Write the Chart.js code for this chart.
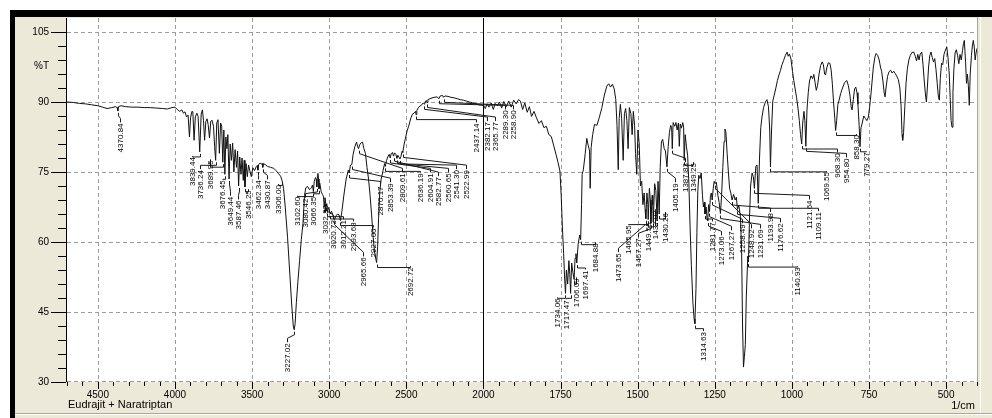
<!DOCTYPE html>
<html>
<head>
<meta charset="utf-8">
<script src="https://cdn.jsdelivr.net/npm/chart.js@4.4.0/dist/chart.umd.min.js"></script>
<style>
html,body{margin:0;padding:0;background:#fff;overflow:hidden}
#wrap{width:992px;height:418px}
</style>
</head>
<body>
<div id="wrap"><canvas id="c" width="992" height="418"></canvas></div>
<script>
// IR spectrum, %T versus wavenumber (1/cm). The axis is compressed 2x above 2000 1/cm.

// 4700 - 2000 1/cm: [wavenumber, %T]
const bandHigh = [
  [4700,90.0],[4660,89.9],[4620,89.7],[4580,89.6],[4540,89.4],[4500,89.2],[4470,88.9],[4440,88.6],
  [4410,88.8],[4385,89.0],[4375,88.8],[4370.84,88.1],[4366,89.0],[4350,89.2],[4320,89.0],[4280,88.9],
  [4240,88.9],[4200,88.8],[4160,88.8],[4120,88.7],[4080,88.6],[4050,88.5],[4020,88.8],[4000,88.9],
  [3985,88.4],[3970,88.0],[3955,88.3],[3945,87.6],[3935,87.9],[3925,86.8],[3915,87.2],[3906,82.5],
  [3899,86.6],[3890,88.0],[3884,87.9],[3876,81.8],[3868,86.8],[3858,87.6],[3850,86.9],[3839.44,79.3],
  [3830,87.4],[3822,88.3],[3815,86.0],[3808,81.8],[3800,85.8],[3792,86.4],[3785,85.2],[3776,82.3],
  [3768,85.8],[3760,86.1],[3750,84.8],[3743,80.5],[3736.24,77.5],[3729,85.5],[3721,86.2],[3712,79.0],
  [3704,85.5],[3697,84.8],[3689.95,77.1],[3683,84.0],[3676.45,74.5],[3670,82.5],[3663,80.0],[3657,83.0],
  [3649.44,73.5],[3642,81.0],[3634,77.5],[3626,81.2],[3618,75.0],[3610,79.8],[3601,76.0],[3594,79.5],
  [3587.46,72.0],[3580,78.2],[3572,74.5],[3565,78.0],[3557,73.2],[3551,77.5],[3546.25,71.8],[3539,76.8],
  [3531,74.0],[3523,76.5],[3514,75.2],[3505,74.0],[3495,75.9],[3484,75.3],[3472,76.2],[3466,76.4],
  [3462.34,75.4],[3458,76.6],[3448,76.9],[3440,76.7],[3434,76.8],[3430.87,76.0],[3426,76.8],[3415,76.6],
  [3400,76.2],[3380,76.0],[3360,75.8],[3345,75.3],[3330,74.7],[3315,74.1],[3306.00,73.2],[3296,71.5],
  [3285,67.5],[3270,61.0],[3255,53.0],[3243,46.5],[3233,42.0],[3227.02,41.2],[3221,42.5],[3213,47.0],
  [3203,51.5],[3192,56.0],[3181,60.5],[3170,64.0],[3160,70.0],[3152,71.6],[3140,71.9],[3128,71.2],
  [3116,71.6],[3108,72.2],[3102.60,70.8],[3097,73.0],[3089,73.8],[3084,73.4],[3080.42,71.8],[3076,74.3],
  [3073,74.7],[3069,73.5],[3066.35,71.4],[3061,72.6],[3052,70.8],[3044,70.2],[3037,69.8],[3032.30,67.4],
  [3027,69.5],[3020.73,67.8],[3016,68.2],[3012.21,66.5],[3004,67.4],[2993.68,66.0],[2985,66.6],[2975,65.6],
  [2965.66,64.8],[2956,65.6],[2946,66.0],[2936,65.8],[2927.00,64.6],[2918,66.5],[2905,70.0],[2890,73.5],
  [2876,75.4],[2870.17,74.8],[2862,76.5],[2853.39,76.6],[2845,78.8],[2834,80.4],[2823,81.4],[2815,80.4],
  [2809.61,80.0],[2803,80.8],[2792,81.3],[2784,81.4],[2775,80.0],[2765,79.0],[2755,76.0],[2745,73.5],
  [2735,70.0],[2725,65.8],[2715,61.0],[2705,57.5],[2692.72,55.6],[2686,59.0],[2680,65.0],[2672,70.8],
  [2663,73.5],[2651,75.3],[2641,76.8],[2636.19,76.2],[2629,77.4],[2618,78.4],[2610,78.8],[2604.91,78.0],
  [2598,78.9],[2590,79.2],[2582.77,78.4],[2576,79.1],[2568,78.8],[2560.65,77.9],[2555,78.6],[2548,78.2],
  [2541.30,77.8],[2535,78.3],[2528,79.4],[2522.99,79.2],[2515,80.8],[2508,81.9],[2495,83.8],[2485,84.8],
  [2470,86.6],[2460,87.4],[2450,87.6],[2440,88.0],[2437.14,87.3],[2432,88.2],[2420,88.9],[2400,89.4],
  [2390,89.8],[2382.17,89.5],[2375,90.2],[2370,90.3],[2365.77,89.9],[2360,90.5],[2340,90.8],[2320,91.0],
  [2300,91.1],[2289.30,90.7],[2280,91.3],[2265,91.4],[2258.90,91.0],[2250,91.3],[2230,91.2],[2210,91.0],
  [2190,90.9],[2170,90.7],[2150,90.5],[2130,90.4],[2110,90.2],[2090,90.0],[2070,89.8],[2050,89.6],
  [2030,89.4],[2010,89.3]
];

// 2000 - 400 1/cm: [wavenumber, %T]
const bandLow = [
  [2000,89.3],[1994,88.6],[1988,89.6],[1982,88.9],[1975,89.8],[1968,88.4],[1962,89.7],[1955,89.2],
  [1948,90.0],[1941,88.7],[1934,90.1],[1926,89.0],[1918,90.2],[1910,88.9],[1902,90.4],[1894,89.6],
  [1886,90.5],[1880,90.2],[1873,88.4],[1866,89.8],[1858,87.8],[1851,89.0],[1844,86.9],[1836,88.0],
  [1828,86.6],[1820,85.4],[1812,86.0],[1804,84.5],[1796,84.8],[1788,83.0],[1780,82.6],[1772,80.6],
  [1764,78.6],[1758,77.0],[1752,75.2],[1748,70.0],[1744,63.0],[1740,57.5],[1737,52.5],[1734.06,49.0],
  [1731,54.0],[1727,51.0],[1723,56.0],[1720,53.0],[1717.47,49.0],[1714,55.5],[1710,53.5],[1706.09,52.0],
  [1703,56.5],[1700,57.5],[1697.41,55.5],[1693,59.5],[1688,61.5],[1684.88,60.5],[1682,68.0],[1680,74.5],
  [1676,75.5],[1670,79.0],[1665,82.2],[1660,80.6],[1656,79.5],[1654,71.5],[1651,80.2],[1646,83.0],
  [1640,85.2],[1632,85.0],[1624,86.8],[1616,88.8],[1608,91.5],[1600,93.4],[1594,93.9],[1588,93.2],
  [1582,93.8],[1576,92.8],[1571,90.5],[1567,85.0],[1563,75.5],[1560,86.5],[1556,89.5],[1552,86.5],
  [1547,77.5],[1543,87.5],[1539,88.6],[1535,86.0],[1531,80.0],[1527,88.8],[1522,87.5],[1518,83.0],
  [1514,88.0],[1510,85.0],[1507,79.0],[1503,74.5],[1499,84.0],[1495,81.0],[1491,72.0],[1487,73.0],
  [1483,68.0],[1479,70.5],[1476,67.0],[1473.65,65.0],[1470,70.5],[1467,68.0],[1465.95,64.8],[1462,71.5],
  [1459,69.0],[1457.27,64.0],[1453,70.0],[1451,68.0],[1449.55,64.3],[1445,72.5],[1441,71.0],[1437.02,64.5],
  [1434,73.0],[1430.26,66.0],[1427,76.0],[1423,81.5],[1419,82.0],[1414,80.0],[1410,79.5],[1405.19,76.1],
  [1401,80.5],[1397,83.5],[1393,85.0],[1390,84.6],[1387.83,80.0],[1385,85.6],[1380,84.8],[1376,85.6],
  [1372,84.0],[1368,85.5],[1365,80.5],[1362,85.3],[1358,84.4],[1354,85.6],[1351,84.6],[1349.25,77.5],
  [1346,83.0],[1342,80.5],[1338,78.5],[1334,72.5],[1330,63.0],[1326,55.0],[1321,47.0],[1317,43.5],
  [1314.63,42.5],[1311,50.0],[1308,62.0],[1305,71.0],[1302,74.3],[1298,73.6],[1294,74.8],[1290,70.0],
  [1287,67.5],[1284,68.5],[1281.77,66.0],[1278,67.5],[1275,65.0],[1273.06,64.5],[1270,68.0],[1267.27,66.5],
  [1264,70.0],[1261,70.5],[1258.49,69.0],[1255,71.5],[1252,73.0],[1248.92,72.5],[1245,72.8],[1240,70.0],
  [1236,68.5],[1231.69,66.1],[1228,70.0],[1224,76.0],[1220,81.5],[1217,84.2],[1214,83.5],[1210,79.0],
  [1206,75.0],[1202,71.5],[1198,70.5],[1193.98,69.0],[1189,70.2],[1184,69.0],[1180,69.6],[1176.62,67.0],
  [1172,67.8],[1167,65.5],[1163,58.0],[1160,42.0],[1157,33.2],[1154,35.5],[1151,38.0],[1148,48.0],
  [1143,57.0],[1140.93,55.7],[1138,64.0],[1134,72.0],[1129,74.8],[1125,74.0],[1121.64,71.5],[1117,76.2],
  [1113,76.5],[1109.11,68.3],[1105,78.0],[1101,84.5],[1097,86.8],[1092,88.8],[1086,90.0],[1081,90.5],
  [1076,89.0],[1072,84.0],[1069.55,76.1],[1066,84.0],[1062,90.2],[1058,91.3],[1052,93.0],[1047,94.6],
  [1042,95.8],[1037,96.8],[1032,98.0],[1027,98.9],[1021,100.0],[1016,100.7],[1012,99.8],[1008,100.3],
  [1003,99.2],[998,96.5],[994,94.6],[990,93.0],[985,91.0],[980,88.5],[976,86.0],[972,83.0],
  [968.30,81.0],[965,85.5],[961,88.0],[958,86.0],[954.80,80.5],[951,88.5],[947,92.0],[943,94.5],
  [938,95.6],[933,95.0],[929,95.9],[925,94.2],[921,92.5],[917,93.5],[912,96.0],[907,97.8],
  [902,98.6],[898,98.0],[894,96.0],[891,95.8],[887,97.3],[882,98.4],[877,98.3],[873,97.0],
  [869,94.0],[865,90.0],[861,86.5],[858.30,83.9],[855,86.0],[851,89.5],[847,90.4],[842,91.8],
  [836,93.0],[829,94.2],[822,94.6],[817,93.5],[812,91.5],[808,89.0],[805,88.3],[801,90.5],
  [797,92.8],[793,93.2],[789,92.0],[786,89.5],[782,85.0],[779.27,80.4],[776,84.5],[772,85.5],
  [767,87.0],[762,86.5],[757,86.0],[752,86.8],[748,89.0],[744,91.5],[740,94.5],[736,97.5],
  [731,99.6],[727,100.4],[722,100.0],[717,99.0],[713,97.5],[709,96.5],[705,94.5],[701,92.0],
  [698,91.1],[695,93.0],[690,95.5],[685,96.5],[680,96.8],[675,96.2],[670,96.6],[665,96.1],
  [660,95.5],[655,94.8],[650,93.0],[646,89.0],[643,83.0],[641,81.8],[638,83.5],[634,89.0],
  [630,94.0],[626,97.0],[621,99.0],[616,100.0],[611,100.6],[605,100.7],[600,99.8],[596,98.8],
  [592,100.2],[588,99.0],[584,100.3],[579,100.7],[575,98.0],[571,94.5],[567,91.5],[564,90.0],
  [561,93.0],[557,97.5],[553,100.0],[549,100.7],[545,99.5],[541,98.6],[537,99.3],[533,97.0],
  [529,94.0],[525,91.0],[522,90.4],[519,95.0],[515,98.3],[511,98.0],[507,100.2],[502,101.2],
  [498,101.8],[494,99.5],[490,96.0],[487,91.0],[484,86.0],[481,84.6],[478,92.0],[475,97.0],
  [471,100.5],[467,101.2],[463,100.0],[459,98.2],[455,100.2],[451,99.0],[447,101.0],[444,102.5],
  [441,103.2],[437,98.5],[434,94.0],[431,96.0],[428,93.5],[425,89.3],[422,96.0],[418,100.0],
  [415,102.0],[412,103.2],[409,101.8],[406,99.0],[403,100.5],[400,101.5]
];

// Labelled peaks: [peak wavenumber, label column wavenumber, label top %T]
const peakLabels = [
  [4370.84,4356.6,85.4],[3839.44,3892,78.2],[3736.24,3838,75.4],[3689.95,3773,77.5],
  [3676.45,3697.5,73.2],[3649.44,3643.8,69.7],[3587.46,3590,68.9],[3546.25,3525,71.1],
  [3462.34,3460,73.2],[3430.87,3406,73.2],[3306.00,3330.8,72.2],[3227.02,3276,38.3],
  [3102.60,3211.5,69.7],[3080.42,3157.8,69.3],[3066.35,3104,69.7],[3032.30,3028,67.9],
  [3020.73,2974,64.7],[3012.21,2909.6,64.7],[2993.68,2844.8,64.2],[2965.66,2780,56.7],
  [2927.00,2715,62.9],[2870.17,2671.8,71.9],[2853.39,2607,72.6],[2809.61,2531,74.7],
  [2692.72,2477.4,54.6],[2636.19,2412.6,74.7],[2604.91,2348,74.7],[2582.77,2294,73.9],
  [2560.65,2229,74.7],[2541.30,2174.7,75.4],[2522.99,2110,75.4],[2437.14,2045,85.4],
  [2382.17,1989.6,85.7],[2365.77,1962.7,85.7],[2289.30,1930.3,88.2],[2258.90,1903.4,88.2],
  [1734.06,1760.9,47.9],[1717.47,1732.7,47.5],[1706.09,1700.3,52.2],[1697.41,1671.1,53.9],
  [1684.88,1638.7,59.7],[1473.65,1563.2,57.6],[1465.95,1530.8,63.6],[1457.27,1498.4,60.8],
  [1449.55,1466,64.2],[1437.02,1444.3,66.8],[1430.26,1412,66.2],[1405.19,1379.5,72.6],
  [1387.83,1347.1,76.9],[1349.25,1320.2,76.9],[1314.63,1287.8,40.7],[1281.77,1260.6,64.2],
  [1273.06,1228.3,61.2],[1267.27,1198.7,62.3],[1258.49,1163.4,63.8],[1248.92,1133.3,62.7],
  [1231.69,1104.1,62.7],[1193.98,1071.7,66.2],[1176.62,1039.3,64.0],[1140.93,982.6,54.6],
  [1121.64,945.4,68.9],[1109.11,915.2,66.4],[1069.55,888,75.0],[968.30,853.7,79.0],
  [954.80,823.2,77.9],[858.30,792.9,82.9],[779.27,760.5,79.2]
];

const xTickLabels = [4500, 4000, 3500, 3000, 2500, 2000, 1750, 1500, 1250, 1000, 750, 500];
const yTickLabels = [30, 45, 60, 75, 90, 105];
const sampleName = 'Eudrajit + Naratriptan';
const xUnit = '1/cm';
const yUnit = '%T';

// Piecewise axis: 500 1/cm per unit above 2000, 250 1/cm per unit below.
const BREAK = 2000, WN_MAX = 4700, WN_MIN = 400;
function pos(w) { return w >= BREAK ? (WN_MAX - w) / 500 : (WN_MAX - BREAK) / 500 + (BREAK - w) / 250; }
const X_MAX = pos(WN_MIN);

const spectrum = bandHigh.concat(bandLow).map(([w, t]) => ({ x: pos(w), y: t }));
const tAt = new Map(bandHigh.concat(bandLow));

const BEIGE = '#ece9d8';
const GRID = '#9c9c9c';
const TICK_FONT = '10px "Liberation Sans", Arial, sans-serif';
const PEAK_FONT = '8px "Liberation Sans", Arial, sans-serif';

function hLine(ctx, x0, x1, y) { ctx.beginPath(); ctx.moveTo(x0, y); ctx.lineTo(x1, y); ctx.stroke(); }
function vLine(ctx, x, y0, y1) { ctx.beginPath(); ctx.moveTo(x, y0); ctx.lineTo(x, y1); ctx.stroke(); }

const spectrumFrame = {
  id: 'spectrumFrame',
  beforeDraw(chart) {
    const { ctx, chartArea: a, scales: { x, y } } = chart;
    const W = chart.width, H = chart.height;
    ctx.save();
    ctx.fillStyle = '#fff';
    ctx.fillRect(0, 0, W, H);
    ctx.fillStyle = BEIGE;
    ctx.fillRect(15, 17, W - 15, H - 17);
    ctx.fillStyle = '#000';
    ctx.fillRect(10, 10, W - 10, 7);
    ctx.fillRect(10, 10, 5, H - 10);
    ctx.fillStyle = '#aca899';
    ctx.fillRect(15, 413, W - 15, 1);
    ctx.fillStyle = '#fff';
    ctx.fillRect(15, 414, W - 15, 1);
    ctx.fillStyle = '#fff';
    ctx.fillRect(a.left, a.top, a.right - a.left, a.bottom - a.top);
    ctx.fillStyle = '#aca899';
    ctx.fillRect(Math.round(a.right), 17, 1, a.bottom - 17);
    ctx.fillStyle = '#fff';
    ctx.fillRect(Math.round(a.right) + 3, 17, 1, 396);

    // dashed grid
    ctx.strokeStyle = GRID;
    ctx.lineWidth = 1;
    ctx.setLineDash([4, 3]);
    for (const v of yTickLabels) {
      const yy = Math.min(Math.round(y.getPixelForValue(v)), Math.round(a.bottom) - 1) + 0.5;
      hLine(ctx, a.left, a.right, yy);
    }
    for (const w of xTickLabels) {
      if (w === BREAK) continue;
      const xx = Math.round(x.getPixelForValue(pos(w))) + 0.5;
      vLine(ctx, xx, a.top, a.bottom);
    }
    ctx.restore();
  },
  afterDatasetsDraw(chart) {
    const { ctx, chartArea: a, scales: { x, y } } = chart;
    ctx.save();
    ctx.strokeStyle = '#000';
    ctx.fillStyle = '#000';
    ctx.lineWidth = 1;

    // scale break marker and left axis
    const xb = Math.round(x.getPixelForValue(pos(BREAK))) + 0.5;
    vLine(ctx, xb, a.top, a.bottom);
    ctx.fillRect(Math.round(a.left) - 1, a.top, 1, a.bottom - a.top);

    // x ticks: every 100 above the break, every 50 below it
    const bottom = Math.round(a.bottom);
    const xMinor = [];
    for (let w = WN_MAX; w >= BREAK; w -= 100) xMinor.push(w);
    for (let w = BREAK - 50; w >= WN_MIN; w -= 50) xMinor.push(w);
    for (const w of xMinor) {
      const major = xTickLabels.includes(w);
      const xx = Math.round(x.getPixelForValue(pos(w))) + 0.5;
      vLine(ctx, xx, bottom, bottom + (major ? 7 : 4));
    }
    ctx.font = TICK_FONT;
    ctx.textAlign = 'center';
    ctx.textBaseline = 'middle';
    for (const w of xTickLabels) {
      ctx.fillText(String(w), x.getPixelForValue(pos(w)), 395.5);
    }

    // y ticks: every 3 %T
    const left = Math.round(a.left) - 1;
    for (let v = 30; v <= 105; v += 3) {
      const major = yTickLabels.includes(v);
      const yy = Math.round(y.getPixelForValue(v)) + 0.5;
      hLine(ctx, left - (major ? 15 : 8), left, yy);
    }
    ctx.textAlign = 'right';
    for (const v of yTickLabels) {
      ctx.fillText(String(v), 49, y.getPixelForValue(v));
    }
    ctx.fillText(yUnit, 49, 66);

    ctx.font = '11px "Liberation Sans", Arial, sans-serif';
    ctx.textAlign = 'left';
    ctx.fillText(sampleName, 68, 405);
    ctx.textAlign = 'right';
    ctx.fillText(xUnit, 975, 406);

    // peak labels with leader lines
    ctx.beginPath();
    ctx.rect(a.left, a.top, a.right - a.left, a.bottom - a.top);
    ctx.clip();
    ctx.strokeStyle = '#1a1a1a';
    ctx.font = PEAK_FONT;
    for (const [wp, wl, tl] of peakLabels) {
      const px = Math.round(x.getPixelForValue(pos(wp))) + 0.5;
      const py = y.getPixelForValue(tAt.get(wp));
      const lx = Math.round(x.getPixelForValue(pos(wl))) + 0.5;
      const ly = y.getPixelForValue(tl);
      ctx.beginPath();
      ctx.moveTo(px, py + 2);
      ctx.lineTo(px, py + 5);
      ctx.lineTo(lx, Math.max(py + 5, ly - 5));
      ctx.lineTo(lx, ly - 1);
      ctx.stroke();
      ctx.save();
      ctx.translate(lx + 0.5, ly);
      ctx.rotate(-Math.PI / 2);
      ctx.textAlign = 'right';
      ctx.textBaseline = 'middle';
      ctx.fillText(wp.toFixed(2), 0, 0);
      ctx.restore();
    }
    ctx.restore();
  }
};

new Chart(document.getElementById('c'), {
  type: 'line',
  data: {
    datasets: [{
      data: spectrum,
      borderColor: '#111',
      borderWidth: 1,
      pointRadius: 0,
      tension: 0,
      fill: false
    }]
  },
  options: {
    responsive: false,
    animation: false,
    devicePixelRatio: 1,
    layout: { padding: { left: 67, right: 15, top: 18, bottom: 36 } },
    scales: {
      x: { type: 'linear', min: 0, max: X_MAX, display: false },
      y: { type: 'linear', min: 30, max: 108, display: false }
    },
    plugins: { legend: { display: false }, tooltip: { enabled: false } },
    events: []
  },
  plugins: [spectrumFrame]
});
</script>
</body>
</html>
